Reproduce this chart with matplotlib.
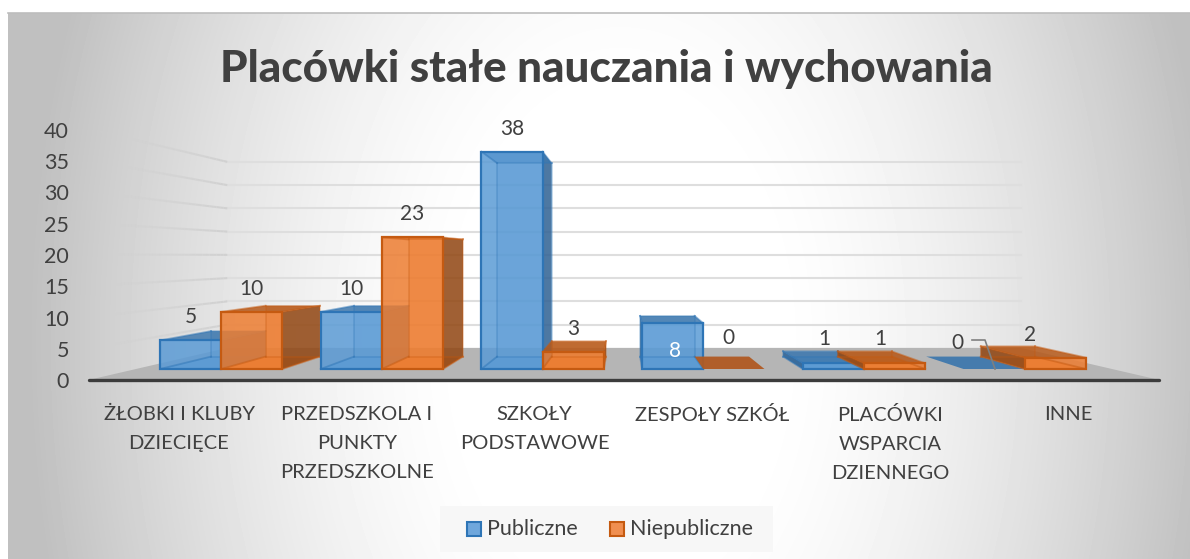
#!/usr/bin/env python3
"""Placowki stale nauczania i wychowania: Excel-style 3D column chart."""
import numpy as np
import matplotlib
matplotlib.use("Agg")
import matplotlib.pyplot as plt
from matplotlib.collections import LineCollection
from matplotlib.patches import Polygon, Rectangle

categories = [
    "ŻŁOBKI I KLUBY\nDZIECIĘCE",
    "PRZEDSZKOLA I\nPUNKTY\nPRZEDSZKOLNE",
    "SZKOŁY\nPODSTAWOWE",
    "ZESPOŁY SZKÓŁ",
    "PLACÓWKI\nWSPARCIA\nDZIENNEGO",
    "INNE",
]
publiczne = [5, 10, 38, 8, 1, 0]
niepubliczne = [10, 23, 3, 0, 1, 2]
y_ticks = [0, 5, 10, 15, 20, 25, 30, 35, 40]

W, H = 1190, 559
INK = "#404040"
BLUE = dict(front="#5b9bd5", side="#2f5f8f", top="#3f78ad", edge="#2e75b6", flat="#3f78ad")
ORANGE = dict(front="#ed7d31", side="#8a4413", top="#b5591a", edge="#c55a11", flat="#b05a22")

# perspective: the bars' front plane is depth 0, everything runs to one point
VP = (624.0, 256.0)
BASE_Y = 369.0
UNIT = 5.72
BAR_W = 61.2
GROUP_STEP = 160.7
FIRST_X = 160.0
DEPTH = 0.11
FLOOR_FRONT = -0.096
WALL = 0.187
FLOOR_L, FLOOR_R = 136.0, 1112.0

plt.rcParams.update({
    "font.family": ["Lato", "DejaVu Sans"],
    "text.color": INK,
})


def pt(x, v, t=0.0):
    y = BASE_Y - UNIT * v
    return (x + t * (VP[0] - x), y + t * (VP[1] - y))


def face(ax, pts, color, alpha, z):
    ax.add_patch(Polygon(pts, closed=True, facecolor=color, edgecolor="none",
                         alpha=alpha, zorder=z))


def draw_bar(ax, x, v, c, z):
    x1 = x + BAR_W
    if v == 0:
        face(ax, [pt(x, 0), pt(x1, 0), pt(x1, 0, DEPTH), pt(x, 0, DEPTH)], c["flat"], 0.95, z)
        return
    f = [pt(x, 0), pt(x1, 0), pt(x1, v), pt(x, v)]
    b = [pt(x, 0, DEPTH), pt(x1, 0, DEPTH), pt(x1, v, DEPTH), pt(x, v, DEPTH)]
    # floor, then the sides that face the viewer, then lid and front
    face(ax, [f[0], f[1], b[1], b[0]], c["front"], 0.8, z)
    face(ax, b, c["front"], 0.35, z)
    if x1 < VP[0]:
        face(ax, [f[1], b[1], b[2], f[2]], c["side"], 0.8, z)
    if x > VP[0]:
        face(ax, [f[0], b[0], b[3], f[3]], c["side"], 0.8, z)
    face(ax, [f[3], f[2], b[2], b[3]], c["top"], 0.85, z)
    face(ax, f, c["front"], 0.85, z)
    # hidden edges show through the glass
    for p, q in zip(b, b[1:] + b[:1]):
        ax.plot(*zip(p, q), color=c["edge"], alpha=0.3, lw=1.3, zorder=z)
    for p, q in zip(f, b):
        ax.plot(*zip(p, q), color=c["edge"], alpha=0.5, lw=1.3, zorder=z)
    ax.add_patch(Polygon(f, closed=True, fill=False, edgecolor=c["edge"], lw=1.6, zorder=z))


fig = plt.figure(figsize=(W / 100, H / 100), dpi=100)
ax = fig.add_axes([0, 0, 1, 1])
ax.axis("off")

# chart area: radial grey-to-white fill, mostly falling off sideways
AREA_L, AREA_T, AREA_R = 8, 13, W
yy, xx = np.mgrid[AREA_T:H, AREA_L:AREA_R]
r = np.hypot((xx - 620) / 590, (yy - 340) / 900)
shade = 255 - 63 * np.clip((r - 0.25) / 0.75, 0, 1) ** 1.5
ax.imshow(shade, cmap="gray", vmin=0, vmax=255, extent=(AREA_L, AREA_R, H, AREA_T),
          aspect="auto", zorder=0)
ax.set_xlim(0, W)
ax.set_ylim(H, 0)
ax.plot([AREA_L, AREA_R], [AREA_T, AREA_T], color="#bdbdbd", lw=1.2, zorder=1)

# floor
face(ax, [pt(FLOOR_L, 0, FLOOR_FRONT), pt(FLOOR_R, 0, FLOOR_FRONT),
          pt(FLOOR_R, 0, WALL), pt(FLOOR_L, 0, WALL)], "#b5b5b5", 1, 1)

# grid: back wall plus the fading left wall
for v in y_ticks[1:]:
    ax.plot(*zip(pt(FLOOR_L, v, WALL), pt(FLOOR_R, v, WALL)), color="#dedede", lw=1.5, zorder=1)
    ts = np.linspace(FLOOR_FRONT, WALL, 40)
    p = np.array([pt(FLOOR_L, v, t) for t in ts])
    segs = np.stack([p[:-1], p[1:]], axis=1)
    colors = [(0.82, 0.82, 0.82, a) for a in np.linspace(0.1, 1, len(segs))]
    ax.add_collection(LineCollection(segs, colors=colors, linewidths=1.5, zorder=1))

for i in range(len(categories)):
    x = FIRST_X + i * GROUP_STEP
    draw_bar(ax, x, publiczne[i], BLUE, 2 + i * 0.1)
    draw_bar(ax, x + BAR_W, niepubliczne[i], ORANGE, 2.05 + i * 0.1)

# axis line
ax.plot(*zip(pt(FLOOR_L, 0, FLOOR_FRONT), pt(FLOOR_R, 0, FLOOR_FRONT)),
        color="#3c3c3c", lw=2.4, solid_capstyle="round", zorder=3)

# value axis labels
for v in y_ticks:
    ax.text(69, pt(FLOOR_L, v, FLOOR_FRONT)[1] + 2.5, str(v), ha="right", va="center",
            fontsize=15.5, zorder=5)

# category labels
for i, lab in enumerate(categories):
    ax.text(179 + i * 177.8, 406, lab, ha="center", va="top", fontsize=14.5,
            linespacing=1.85, zorder=5)

# data labels sit 25px above the bar, except the ones moved by hand
for i in range(len(categories)):
    x = FIRST_X + i * GROUP_STEP
    for k, vals in enumerate((publiczne, niepubliczne)):
        ax_x = x + k * BAR_W + BAR_W / 2
        v = vals[i]
        dx, dy, col = {
            (3, 0): (2, 26, "white"),
            (3, 1): (-5, -33, INK),
            (4, 0): (-9, -26, INK),
            (4, 1): (-14, -26, INK),
            (5, 0): (-37, -28, INK),
            (5, 1): (-25, -25, INK),
        }.get((i, k), (0, -25, INK))
        ax.text(ax_x + dx, pt(0, v)[1] + dy + 2, str(v), ha="center", va="center",
                fontsize=15, color=col, zorder=6)

# leader line of the zero in INNE
ax.plot([972, 985, 995], [340, 340, 369], color="#7f7f7f", lw=1.2, zorder=6)

ax.text(606, 69, "Placówki stałe nauczania i wychowania", ha="center", va="center",
        fontsize=31.7, fontweight="black", zorder=5)

# legend placed by hand, the box is wider than a native legend's padding allows
ax.add_patch(Rectangle((440, 506), 333, 46, facecolor="#f7f7f7", edgecolor="none", zorder=4))
for x0, label, front, c in ((467, "Publiczne", "#6fa7dc", BLUE),
                            (610, "Niepubliczne", "#f08f50", ORANGE)):
    ax.add_patch(Rectangle((x0, 522), 14, 14, facecolor=front, edgecolor=c["edge"],
                           lw=1.5, zorder=5))
    ax.text(x0 + 20, 529, label, ha="left", va="center", fontsize=15.5, zorder=5)

fig.savefig("out.png", dpi=100)
